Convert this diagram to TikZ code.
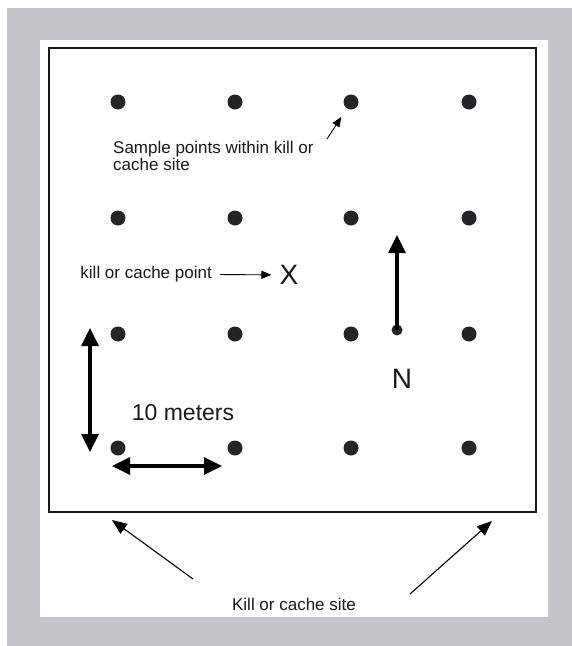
\documentclass[tikz,border=0pt]{standalone}
\usepackage{fontspec}
\setmainfont{Liberation Sans}
\usetikzlibrary{arrows.meta}
\definecolor{panelGrey}{RGB}{198,195,202}
\definecolor{dotGrey}{RGB}{38,36,40}

\begin{document}
\begin{tikzpicture}[x=1pt, y=-1pt, every node/.style={font=\fontsize{17}{17}\selectfont, text=black!90, inner sep=0pt},
    samplept/.style={circle, fill=dotGrey, minimum size=15pt},
    thinarrow/.style={line width=0.9pt, -{Triangle[length=10pt, width=8pt]}},
    sitearrow/.style={line width=1.1pt, -{Triangle[length=15pt, width=12pt]}},
    thickarrow/.style={line width=3.4pt, -{Triangle[length=18pt, width=17pt]}},
    doublearrow/.style={line width=3.4pt, {Triangle[length=18pt, width=17pt]}-{Triangle[length=18pt, width=17pt]}},
    bigletter/.style={font=\fontsize{28}{28}\selectfont}]
    \useasboundingbox (0,0) rectangle (572,646);
    \fill[panelGrey] (7,8) rectangle (572,646);
    \fill[white] (40,40) rectangle (548,617);
    \draw[line width=1.5pt, black!90] (49,48) rectangle (536,512);
    \foreach \r/\y in {1/102,2/218,3/334,4/448}{
        \foreach \c/\x in {1/118,2/235,3/351,4/469}{
            \node[samplept] (d\r\c) at (\x,\y) {};
        }
    }
    \node[anchor=north west, align=left] (sample) at (113,141) {Sample points within kill or\\cache site};
    \coordinate (sampletail) at (327,139);
    \draw[thinarrow, shorten >=10pt] (sampletail) -- (d13);
    \node[anchor=east] (killpt) at (212,274) {kill or cache point};
    \node[bigletter] (xmark) at (289,275) {X};
    \draw[thinarrow, shorten <=8pt, shorten >=8pt] (killpt) -- (xmark);
    \node[circle, fill=dotGrey, minimum size=11pt] (nbase) at (397,330) {};
    \coordinate (ntip) at (397,235);
    \draw[thickarrow] (nbase.center) -- (ntip);
    \node[bigletter] (north) at (402,379) {N};
    \coordinate (vtop) at (90,328);
    \coordinate (vbot) at (90,452);
    \draw[doublearrow] (vtop) -- (vbot);
    \coordinate (hleft) at (112,466);
    \coordinate (hright) at (222,466);
    \draw[doublearrow] (hleft) -- (hright);
    \node[font=\fontsize{23}{23}\selectfont] (meters) at (183,413) {10 meters};
    \node (site) at (294,604) {Kill or cache site};
    \coordinate (lefttail) at (193,579);
    \coordinate (lefttip) at (112,520);
    \coordinate (righttail) at (410,594);
    \coordinate (righttip) at (492,521);
    \draw[sitearrow] (lefttail) -- (lefttip);
    \draw[sitearrow] (righttail) -- (righttip);
\end{tikzpicture}
\end{document}
